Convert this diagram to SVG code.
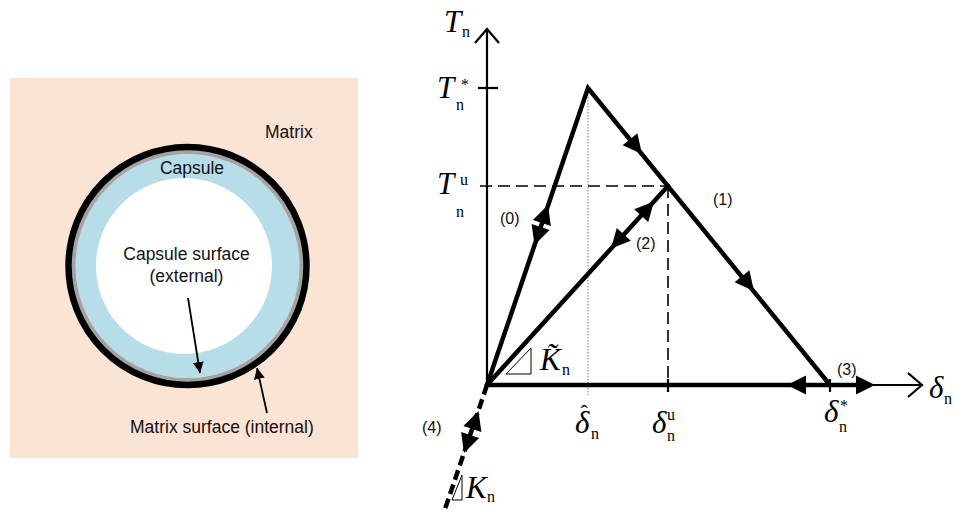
<svg xmlns="http://www.w3.org/2000/svg" width="954" height="513" viewBox="0 0 954 513">
<style>
.lbl{font-family:"Liberation Sans",Arial,sans-serif;font-size:17.5px;fill:#111}
.num{font-family:"Liberation Sans",Arial,sans-serif;font-size:16px;fill:#111}
.m{font-family:"Liberation Serif","Times New Roman",serif;font-style:italic;font-size:31px;fill:#000}
.s{font-family:"Liberation Serif","Times New Roman",serif;font-style:normal;font-size:16px}
.acc{font-family:"Liberation Serif","Times New Roman",serif;font-style:normal;font-size:22px}
.ax{stroke:#000;stroke-width:2.2;fill:none}
.thick{stroke:#000;stroke-width:4.5;fill:none;stroke-linecap:round;stroke-linejoin:miter}
.dash{stroke:#000;stroke-width:1.6;fill:none;stroke-dasharray:12 6}
.thin{stroke:#000;stroke-width:1;fill:none}
</style>
<defs>
<path id="ah" d="M0,0 L-19,-9.5 L-19,9.5 Z" fill="#000"/>
<marker id="sm" viewBox="0 0 10 10" refX="10" refY="5" markerWidth="11" markerHeight="11" markerUnits="userSpaceOnUse" orient="auto">
<path d="M0,0 L10,5 L0,10 Z" fill="#000"/>
</marker>
</defs>
<rect width="954" height="513" fill="#fff"/>

<g id="capsule-panel">
<rect x="10" y="78" width="348" height="380" fill="#FCE4D4"/>
<circle cx="187.5" cy="266" r="112" fill="#B7DEE8"/>
<circle cx="187.5" cy="266" r="114" fill="none" stroke="#A3A3A3" stroke-width="4"/>
<circle cx="187.5" cy="266" r="119" fill="none" stroke="#000" stroke-width="6.5"/>
<circle cx="184" cy="266" r="88" fill="#fff"/>
<text class="lbl" x="265" y="138">Matrix</text>
<text class="lbl" x="192" y="174" text-anchor="middle">Capsule</text>
<text class="lbl" x="186.5" y="260" text-anchor="middle">Capsule surface</text>
<text class="lbl" x="186.5" y="282" text-anchor="middle">(external)</text>
<text class="lbl" x="130" y="433">Matrix surface (internal)</text>
<line x1="188" y1="298" x2="200" y2="373" stroke="#000" stroke-width="1.8" marker-end="url(#sm)"/>
<line x1="267" y1="413" x2="257" y2="368" stroke="#000" stroke-width="1.8" marker-end="url(#sm)"/>
</g>

<g id="axes">
<line class="ax" x1="487" y1="385" x2="487" y2="29"/>
<polyline class="ax" points="475,43 487,29 499,43"/>
<line class="ax" x1="487" y1="385" x2="922" y2="385"/>
<polyline class="ax" points="908,373 922,385 908,397"/>
<line class="ax" x1="478" y1="88" x2="498" y2="88"/>
<line class="ax" x1="668" y1="379" x2="668" y2="392"/>
<line class="ax" x1="830" y1="379" x2="830" y2="392"/>
</g>

<g id="guides">
<line class="dash" x1="480" y1="186" x2="668" y2="186"/>
<line class="dash" x1="668" y1="186" x2="668" y2="392"/>
<line x1="588" y1="88" x2="588" y2="395" stroke="#777" stroke-width="1" stroke-dasharray="1.5 1.5"/>
</g>

<g id="connectors">
<polyline class="thick" points="487,385 588,88 830,385"/>
<line class="thick" x1="487" y1="385" x2="668" y2="186"/>
<line class="thick" x1="487" y1="385" x2="858" y2="385"/>
<line x1="487" y1="385" x2="444" y2="512" stroke="#000" stroke-width="4.5" stroke-dasharray="10 5"/>
<use href="#ah" transform="translate(642,154) rotate(50.8)"/>
<use href="#ah" transform="translate(754,291) rotate(50.8)"/>
<use href="#ah" transform="translate(548,205) rotate(-71.2)"/>
<use href="#ah" transform="translate(534.5,245) rotate(108.8)"/>
<use href="#ah" transform="translate(654,201.5) rotate(-47.7)"/>
<use href="#ah" transform="translate(611,248.5) rotate(132.3)"/>
<use href="#ah" transform="translate(787,385) rotate(180)"/>
<use href="#ah" transform="translate(875,385)"/>
<use href="#ah" transform="translate(478.5,411) rotate(-71.2)"/>
<use href="#ah" transform="translate(464,453) rotate(108.8)"/>
</g>

<g id="slopes">
<polygon class="thin" points="506,374 531,374 531,348"/>
<polygon class="thin" points="452,500 462,500 462,475"/>
</g>

<g id="branch-labels">
<text class="num" x="500" y="224">(0)</text>
<text class="num" x="713" y="205">(1)</text>
<text class="num" x="636" y="249">(2)</text>
<text class="num" x="837" y="375">(3)</text>
<text class="num" x="422" y="433">(4)</text>
</g>

<g id="math-labels">
<text class="m" x="444" y="32">T<tspan class="s" x="462" y="37">n</tspan></text>
<text class="m" x="437" y="98">T<tspan class="s" x="461" y="90">*</tspan><tspan class="s" x="456" y="110">n</tspan></text>
<text class="m" x="437" y="194">T<tspan class="s" x="460" y="185">u</tspan><tspan class="s" x="456" y="217">n</tspan></text>
<text class="m" x="575" y="433">δ<tspan class="acc" x="580.5" y="420">ˆ</tspan><tspan class="s" x="591" y="439">n</tspan></text>
<text class="m" x="652" y="433">δ<tspan class="s" x="667" y="420">u</tspan><tspan class="s" x="667" y="441">n</tspan></text>
<text class="m" x="824" y="422">δ<tspan class="s" x="840" y="411">*</tspan><tspan class="s" x="839" y="432">n</tspan></text>
<text class="m" x="929" y="398">δ<tspan class="s" x="944" y="404">n</tspan></text>
<text class="m" x="540" y="370">K̃<tspan class="s" x="562" y="375">n</tspan></text>
<text class="m" x="466" y="498">K<tspan class="s" x="487" y="502">n</tspan></text>
</g>
</svg>
